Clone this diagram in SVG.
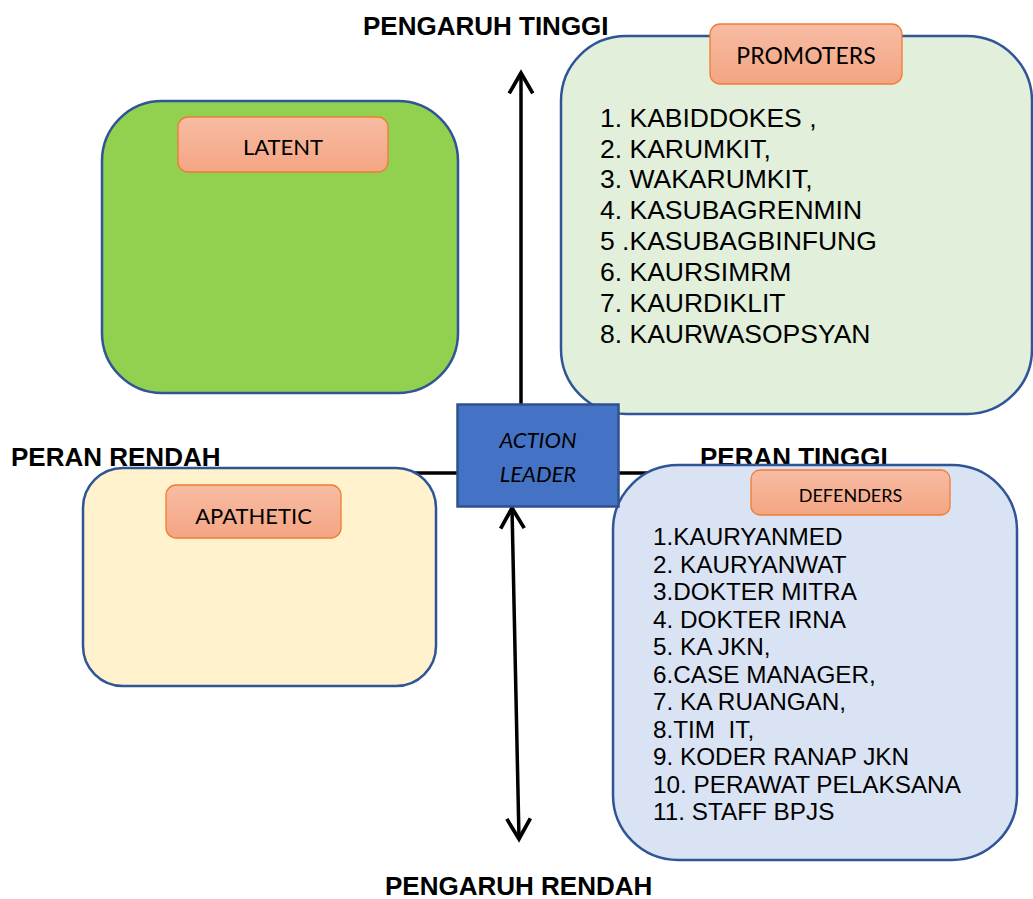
<svg xmlns="http://www.w3.org/2000/svg" width="1033" height="899" viewBox="0 0 1033 899">
<defs>
<linearGradient id="lblGrad" x1="0" y1="0" x2="0" y2="1">
<stop offset="0" stop-color="#F7BCA3"/>
<stop offset="1" stop-color="#F4A583"/>
</linearGradient>
<marker id="arr" markerUnits="userSpaceOnUse" markerWidth="30" markerHeight="30" viewBox="-22 -14 26 28" refX="0" refY="0" orient="auto-start-reverse">
<path d="M -19,-11 L 0,0 L -19,11" fill="none" stroke="#000" stroke-width="3.5" stroke-linejoin="miter"/>
</marker>
</defs>
<style>
.axis{font-family:"Liberation Sans",Arial,sans-serif;font-weight:bold;font-size:26px;fill:#000}
.box{stroke:#2F5597;stroke-width:2.5}
.lbl{fill:url(#lblGrad);stroke:#ED7D31;stroke-width:1.3}
.lbltxt{font-family:Lato,"Open Sans",sans-serif;fill:#000;text-anchor:middle}
.list{font-family:"Liberation Sans",Arial,sans-serif;fill:#000}
.line{stroke:#000;stroke-width:3.5;fill:none}
</style>
<rect width="1033" height="899" fill="#fff"/>

<g id="axis-labels">
<text class="axis" x="363" y="35">PENGARUH TINGGI</text>
<text class="axis" x="385" y="895">PENGARUH RENDAH</text>
<text class="axis" x="11" y="466">PERAN RENDAH</text>
<text class="axis" x="700" y="466">PERAN TINGGI</text>
</g>

<g id="connectors">
<line class="line" x1="400" y1="473" x2="680" y2="473"/>
<line class="line" x1="521" y1="404" x2="521" y2="73" marker-end="url(#arr)"/>
<line class="line" x1="512" y1="508" x2="519" y2="839" marker-start="url(#arr)" marker-end="url(#arr)"/>
</g>

<g id="latent">
<rect class="box" x="102" y="101" width="356" height="292" rx="60" fill="#92D050"/>
<rect class="lbl" x="178" y="117" width="210" height="55" rx="10"/>
<text class="lbltxt" x="283" y="155" font-size="22">LATENT</text>
</g>

<g id="promoters">
<rect class="box" x="561" y="36" width="471" height="378" rx="65" fill="#E2EFDA"/>
<rect class="lbl" x="710" y="24" width="192" height="60" rx="10"/>
<text class="lbltxt" x="806" y="64" font-size="23">PROMOTERS</text>
<g class="list" font-size="26.5">
<text x="600" y="127">1. KABIDDOKES ,</text>
<text x="600" y="157.5">2. KARUMKIT,</text>
<text x="600" y="188">3. WAKARUMKIT,</text>
<text x="600" y="219">4. KASUBAGRENMIN</text>
<text x="600" y="250">5 .KASUBAGBINFUNG</text>
<text x="600" y="281">6. KAURSIMRM</text>
<text x="600" y="312">7. KAURDIKLIT</text>
<text x="600" y="343">8. KAURWASOPSYAN</text>
</g>
</g>

<g id="apathetic">
<rect class="box" x="83" y="468" width="353" height="218" rx="40" fill="#FFF2CC"/>
<rect class="lbl" x="166" y="485" width="175" height="53" rx="10"/>
<text class="lbltxt" x="253.5" y="524" font-size="22">APATHETIC</text>
</g>

<g id="defenders">
<rect class="box" x="613" y="465" width="404" height="395" rx="65" fill="#DAE3F3"/>
<rect class="lbl" x="751" y="470" width="199" height="45" rx="9"/>
<text class="lbltxt" x="850.5" y="502" font-size="18">DEFENDERS</text>
<g class="list" font-size="24.3">
<text x="653" y="545">1.KAURYANMED</text>
<text x="653" y="572.5">2. KAURYANWAT</text>
<text x="653" y="600">3.DOKTER MITRA</text>
<text x="653" y="627.5">4. DOKTER IRNA</text>
<text x="653" y="655">5. KA JKN,</text>
<text x="653" y="682.5">6.CASE MANAGER,</text>
<text x="653" y="710">7. KA RUANGAN,</text>
<text x="653" y="737.5" xml:space="preserve">8.TIM  IT,</text>
<text x="653" y="765">9. KODER RANAP JKN</text>
<text x="653" y="792.5">10. PERAWAT PELAKSANA</text>
<text x="653" y="820">11. STAFF BPJS</text>
</g>
</g>

<g id="action-leader">
<rect x="457.5" y="404.5" width="161" height="102" fill="#4472C4" stroke="#2F528F" stroke-width="2.5"/>
<text class="lbltxt" x="538" y="448" font-size="22" font-style="italic">ACTION</text>
<text class="lbltxt" x="538" y="482" font-size="22" font-style="italic">LEADER</text>
</g>
</svg>
